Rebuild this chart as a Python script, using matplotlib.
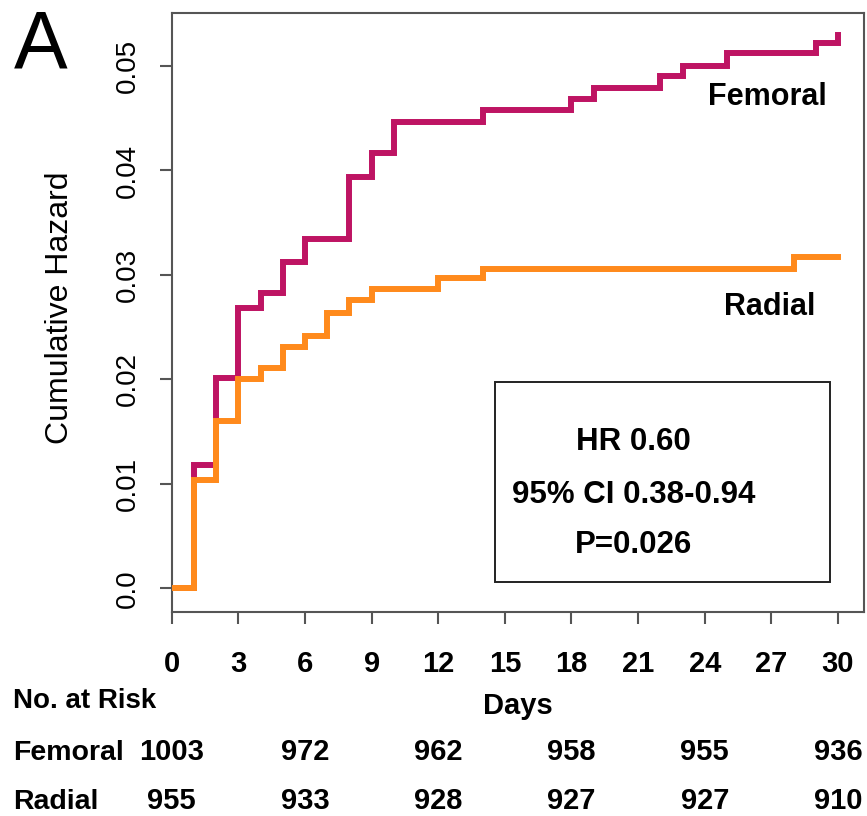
import matplotlib
matplotlib.use("Agg")
import matplotlib.pyplot as plt
from matplotlib.patches import Rectangle
from matplotlib.transforms import blended_transform_factory

plt.rcParams['font.family'] = ['Liberation Sans', 'DejaVu Sans']

# ---- data ----
femoral_days = [0, 1, 2, 3, 4, 5, 6, 8, 9, 10, 14, 18, 19, 22, 23, 25, 29, 30]
femoral_haz = [0.0, 0.0118, 0.0201, 0.0268, 0.0283, 0.0312, 0.0334, 0.0394, 0.0417,
               0.0446, 0.0458, 0.0468, 0.0479, 0.0490, 0.0500, 0.0512, 0.0522, 0.0530]
radial_days = [0, 1, 2, 3, 4, 5, 6, 7, 8, 9, 12, 14, 28, 30]
radial_haz = [0.0, 0.0104, 0.0160, 0.0200, 0.0211, 0.0231, 0.0242, 0.0264, 0.0276,
              0.0287, 0.0297, 0.0306, 0.0317, 0.0317]

x_ticks = [0, 3, 6, 9, 12, 15, 18, 21, 24, 27, 30]
y_ticks = [0.0, 0.01, 0.02, 0.03, 0.04, 0.05]
y_tick_labels = ["0.0", "0.01", "0.02", "0.03", "0.04", "0.05"]

risk_days = [0, 6, 12, 18, 24, 30]
risk_femoral = [1003, 972, 962, 958, 955, 936]
risk_radial = [955, 933, 928, 927, 927, 910]

stats_lines = ["HR 0.60", "95% CI 0.38-0.94", "P=0.026"]

col_fem = "#BE1463"
col_rad = "#FF8A1C"

W, H = 867, 816
fig = plt.figure(figsize=(W / 100, H / 100), dpi=100)
ax_l, ax_r, ax_t, ax_b = 171.7, 864, 13.3, 611.7
ax = fig.add_axes([ax_l / W, 1 - ax_b / H, (ax_r - ax_l) / W, (ax_b - ax_t) / H])

ax.step(femoral_days, femoral_haz, where='post', color=col_fem, lw=4.3,
        solid_joinstyle='miter', zorder=3)
ax.step(radial_days, radial_haz, where='post', color=col_rad, lw=4.3,
        solid_joinstyle='miter', zorder=4)

ax.set_xlim(0, 31.17)
ax.set_ylim(-0.00222, 0.05504)

spine_col = "#555555"
for s in ax.spines.values():
    s.set_color(spine_col)
    s.set_linewidth(1.5)

ax.set_xticks(x_ticks)
ax.set_xticklabels([str(t) for t in x_ticks], fontsize=21, fontweight='bold')
ax.set_yticks(y_ticks)
ax.set_yticklabels(y_tick_labels, fontsize=20, rotation=90, va='center')
ax.tick_params(axis='x', length=8.5, width=1.5, color=spine_col, pad=19)
ax.tick_params(axis='y', length=8.5, width=1.5, color=spine_col, pad=14)

# curve labels
ax.text(26.8, 0.04627, "Femoral", fontsize=22, fontweight='bold',
        ha='center', va='baseline')
ax.text(26.94, 0.02617, "Radial", fontsize=22, fontweight='bold',
        ha='center', va='baseline')

# stats box
ax.add_patch(Rectangle((14.56, 0.00062), 15.08, 0.01914, fill=False,
                       edgecolor='#222222', lw=1.4, zorder=5))
for txt, yb in zip(stats_lines, [0.01325, 0.00818, 0.00340]):
    ax.text(20.8, yb, txt, fontsize=22.5, fontweight='bold', ha='center', va='baseline')

# axis labels
fig.text(60 / W, 1 - 308 / H, "Cumulative Hazard", fontsize=23, rotation=90,
         ha='center', va='center')
fig.text(518 / W, 1 - 714 / H, "Days", fontsize=21, fontweight='bold',
         ha='center', va='baseline')
fig.text(14 / W, 1 - 68 / H, "A", fontsize=58, ha='left', va='baseline')

# number at risk table
fig.text(13 / W, 1 - 708 / H, "No. at Risk", fontsize=20, fontweight='bold',
         ha='left', va='baseline')
fig.text(13 / W, 1 - 760 / H, "Femoral", fontsize=20.5, fontweight='bold',
         ha='left', va='baseline')
fig.text(13 / W, 1 - 809 / H, "Radial", fontsize=20.5, fontweight='bold',
         ha='left', va='baseline')
tr = blended_transform_factory(ax.transData, fig.transFigure)
for d, nf, nr in zip(risk_days, risk_femoral, risk_radial):
    ax.text(d, 1 - 760 / H, str(nf), transform=tr, fontsize=21, fontweight='bold',
            ha='center', va='baseline', clip_on=False)
    ax.text(d, 1 - 809 / H, str(nr), transform=tr, fontsize=21, fontweight='bold',
            ha='center', va='baseline', clip_on=False)

fig.savefig("out.png", dpi=100)
